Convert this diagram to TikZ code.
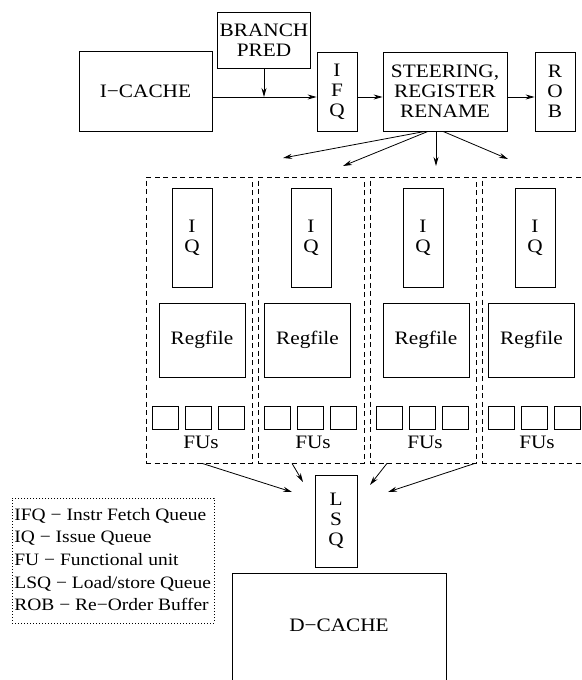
\documentclass[tikz,border=0pt]{standalone}
\usepackage{fontspec}
\setmainfont{Liberation Serif}[FakeStretch=1.12]
\usetikzlibrary{arrows.meta}
\begin{document}
\begin{tikzpicture}[x=1pt,y=-1pt,
  txt/.style={font=\fontsize{19}{20}\selectfont},
  box/.style={draw, line width=0.8pt, inner sep=0pt, align=center, txt},
  arr/.style={-{Stealth[length=9pt,width=5pt]}, line width=0.8pt},
  cluster/.style={draw, dash pattern=on 5pt off 3.5pt, line width=0.7pt, inner sep=0pt, minimum width=106pt, minimum height=286pt},
  fu/.style={draw, line width=0.8pt, inner sep=0pt, minimum width=26pt, minimum height=23pt},
  legbox/.style={draw, dash pattern=on 1pt off 2pt, line width=0.6pt, inner sep=0pt, minimum width=202pt, minimum height=125pt},
  legtext/.style={inner sep=0pt, align=left, font=\fontsize{17.4}{22.7}\selectfont}]
\clip (0,0) rectangle (581,680);
% front end
\node[box, minimum width=133pt, minimum height=80pt] (icache) at (145.5,91) {I−CACHE};
\node[box, minimum width=93pt, minimum height=56pt] (bp) at (264,40) {BRANCH\\PRED};
\node[box, minimum width=40pt, minimum height=79pt] (ifq) at (337,91.5) {I\\F\\Q};
\node[box, minimum width=124pt, minimum height=79pt] (steer) at (445,91.5) {STEERING,\\REGISTER\\RENAME};
\node[box, minimum width=40pt, minimum height=79pt] (rob) at (555,91.5) {R\\O\\B};
\coordinate (j) at (264,97);
\draw[line width=0.8pt] (icache.east |- j) -- (j);
\draw[arr] (j) -- (ifq.west |- j);
\draw[arr] (bp.south) -- (j);
\draw[arr] (ifq.east |- j) -- (steer.west |- j);
\draw[arr] (steer.east |- j) -- (rob.west |- j);
% fan-out
\coordinate (t1) at (283,158);
\coordinate (t2) at (343,166);
\coordinate (t3) at (436,166);
\coordinate (t4) at (508,159);
\draw[arr] ([xshift=-20pt]steer.south) -- (t1);
\draw[arr] ([xshift=-17pt]steer.south) -- (t2);
\draw[arr] ([xshift=-9pt]steer.south) -- (t3);
\draw[arr] ([xshift=-2pt]steer.south) -- (t4);
% clusters
\foreach \i/\x/\q/\r in {1/146/46/56, 2/258/53/49.5, 3/370/53/56, 4/482/53/49.5} {
  \node[cluster] (cl\i) at (\x+53,320) {};
  \node[box, minimum width=40pt, minimum height=99pt] (iq\i) at (\x+\q,237.5) {I\\Q};
  \node[box, minimum width=86pt, minimum height=74pt] (rf\i) at (\x+\r,340) {Regfile};
  \node[fu] (fa\i) at (\x+19.5,417.5) {};
  \node[fu] (fb\i) at (\x+52.5,417.5) {};
  \node[fu] (fc\i) at (\x+85.5,417.5) {};
  \node[txt, inner sep=0pt] (fl\i) at (\x+55,442) {FUs};
}
% LSQ and D-cache
\node[box, minimum width=42pt, minimum height=92pt] (lsq) at (336,521) {L\\S\\Q};
\node[box, minimum width=214pt, minimum height=130pt,
  label={[txt, yshift=13pt]center:D−CACHE}] (dcache) at (339,638) {};
\coordinate (u1) at (292,492);
\coordinate (u2) at (303,482);
\coordinate (u3) at (370,485);
\coordinate (u4) at (388,492);
\draw[arr] ([xshift=3pt]cl1.south) -- (u1);
\draw[arr] ([xshift=-19pt]cl2.south) -- (u2);
\draw[arr] ([xshift=-36pt]cl3.south) -- (u3);
\draw[arr] ([xshift=-60pt]cl4.south) -- (u4);
% legend
\node[legbox] (leg) at (113,560.5) {};
\node[legtext, anchor=west] (legt) at ([xshift=2.5pt,yshift=1pt]leg.west) {IFQ − Instr Fetch Queue\\IQ − Issue Queue\\FU − Functional unit\\LSQ − Load/store Queue\\ROB − Re−Order Buffer};
\end{tikzpicture}
\end{document}
